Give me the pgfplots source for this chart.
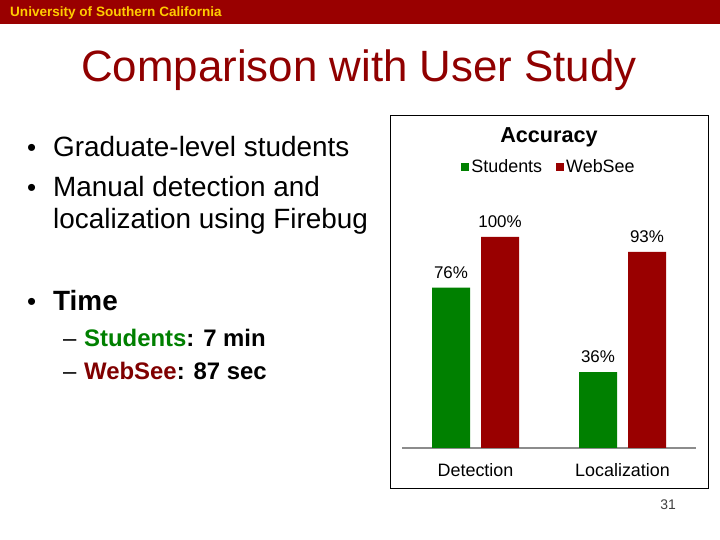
\documentclass[border=0pt]{standalone}
\usepackage{fontspec}
\setmainfont{Liberation Sans}
\usepackage{pgfplots}
\pgfplotsset{compat=1.18}
\definecolor{uscred}{HTML}{990000}
\definecolor{uscgold}{HTML}{FFCC00}
\definecolor{titlered}{HTML}{900000}
\definecolor{stgreen}{HTML}{008000}
\definecolor{wsred}{HTML}{990000}
\definecolor{wstext}{HTML}{800000}
\newcommand{\fs}[1]{\fontsize{#1}{#1}\selectfont}
\begin{document}
\begin{tikzpicture}[x=1bp,y=1bp]
\useasboundingbox (0,0) rectangle (720,540);
\fill[white] (0,0) rectangle (720,540);
\fill[uscred] (0,516) rectangle (720,540);
\node[anchor=base west, inner sep=0, text=uscgold, font=\fs{13.6}\bfseries] at (10,523.5) {University of Southern California};
\node[anchor=base, inner sep=0, text=titlered, font=\fs{44}] at (359,458) {Comparison with User Study};
% bullets
\node[anchor=base west, inner sep=0, font=\fs{26}] at (27,383) {•};
\node[anchor=base west, inner sep=0, font=\fs{28}] at (53,383) {Graduate-level students};
\node[anchor=base west, inner sep=0, font=\fs{26}] at (27,343) {•};
\node[anchor=base west, inner sep=0, font=\fs{28}] at (53,343) {Manual detection and};
\node[anchor=base west, inner sep=0, font=\fs{28}] at (53,311) {localization using Firebug};
\node[anchor=base west, inner sep=0, font=\fs{26}] at (27,229) {•};
\node[anchor=base west, inner sep=0, font=\fs{28}\bfseries] at (53,229) {Time};
\node[anchor=base west, inner sep=0, font=\fs{24}] at (63,193) {–};
\node[anchor=base west, inner sep=0, font=\fs{24}\bfseries] at (84,193) {\textcolor{stgreen}{Students}: 7 min};
\node[anchor=base west, inner sep=0, font=\fs{24}] at (63,160) {–};
\node[anchor=base west, inner sep=0, font=\fs{24}\bfseries] at (84,160) {\textcolor{wstext}{WebSee}: 87 sec};
% chart frame
\draw[line width=0.75bp] (390,52) rectangle (708,425);
\begin{axis}[
 at={(402bp,92bp)}, anchor=south west,
 width=294bp, height=211bp, scale only axis,
 xmin=-0.5, xmax=1.5, ymin=0, ymax=100,
 axis x line*=bottom, axis y line=none,
 x axis line style={draw=black!45, line width=1.5bp},
 xtick={0,1}, xticklabels={Detection,Localization},
 major tick length=0, ytick=\empty,
 xticklabel style={font=\fs{18}, anchor=base, yshift=-29bp},
 ybar, bar width=38bp,
 enlargelimits=false, clip=false,
 nodes near coords={\pgfmathprintnumber{\pgfplotspointmeta}\%},
 every node near coord/.append style={font=\fs{17}, anchor=south, inner sep=0pt, yshift=9bp},
 /pgf/number format/assume math mode=true,
 title={Accuracy}, title style={at={(0.5,1.445)}, anchor=center, font=\fs{21.7}\bfseries},
 legend columns=2,
 legend style={at={(0.5,1.332)}, anchor=center, draw=none, fill=none, font=\fs{18},
   nodes={inner xsep=2.5bp},
   /tikz/every even column/.append style={column sep=11bp}},
 legend image code/.code={\fill[#1] (0bp,-4bp) rectangle (8bp,4bp);},
]
\addplot[fill=stgreen, draw=none, bar shift=-24.5bp] coordinates {(0,76) (1,36)};
\addplot[fill=wsred, draw=none, bar shift=24.5bp] coordinates {(0,100) (1,93)};
\legend{Students,WebSee}
\end{axis}
\node[anchor=center, inner sep=0, font=\fs{14}, text=black!75] at (668,35) {31};
\end{tikzpicture}
\end{document}
